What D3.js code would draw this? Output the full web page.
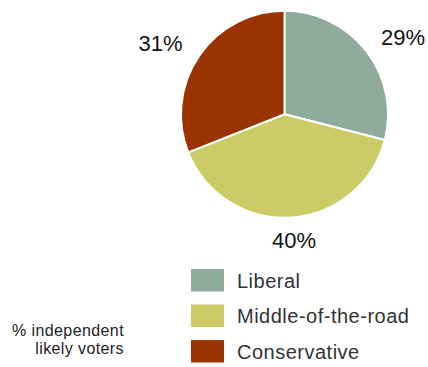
<!DOCTYPE html>
<html>
<head>
<meta charset="utf-8">
<script src="https://cdn.jsdelivr.net/npm/d3@7"></script>
<style>
  html, body { margin: 0; padding: 0; background: #fff; }
  svg { display: block; font-family: "Liberation Sans", Arial, sans-serif; }
</style>
</head>
<body>
<svg id="chart" width="428" height="367"></svg>
<script>
// Shares of independent likely voters by ideology
const categories = ["Liberal", "Middle-of-the-road", "Conservative"];
const values = [29, 40, 31];
const colors = ["#8fab9e", "#cccc66", "#993300"];
const noteLines = ["% independent", "likely voters"];

const svg = d3.select("#chart");
const cx = 284.5, cy = 114.3, radius = 103.5;

const pie = d3.pie().sort(null).value(d => d)(values);
const arc = d3.arc().innerRadius(0).outerRadius(radius);
const color = d3.scaleOrdinal().domain(categories).range(colors);

const g = svg.append("g").attr("transform", `translate(${cx},${cy})`);

g.selectAll("path.slice")
  .data(pie)
  .join("path")
  .attr("class", "slice")
  .attr("d", arc)
  .attr("fill", (d, i) => color(categories[i]))
  .attr("stroke", "#fff")
  .attr("stroke-width", 2)
  .attr("stroke-linejoin", "round");

// Percentage labels placed outside each slice along its mid angle
const labelRx = 150, labelRy = 126;
g.selectAll("text.pct")
  .data(pie)
  .join("text")
  .attr("class", "pct")
  .attr("x", d => Math.sin((d.startAngle + d.endAngle) / 2) * labelRx)
  .attr("y", d => -Math.cos((d.startAngle + d.endAngle) / 2) * labelRy + 8)
  .attr("text-anchor", "middle")
  .attr("font-size", 22)
  .attr("fill", "#111")
  .text(d => d.value + "%");

// Legend
const legendY = d3.scalePoint().domain(categories).range([269, 340]);
const legend = svg.append("g");
const items = legend.selectAll("g.item")
  .data(categories)
  .join("g")
  .attr("class", "item")
  .attr("transform", d => `translate(191,${legendY(d)})`);

items.append("rect")
  .attr("width", 33)
  .attr("height", 22.5)
  .attr("fill", d => color(d));

items.append("text")
  .attr("x", 46)
  .attr("y", 18.7)
  .attr("font-size", 20)
  .attr("letter-spacing", 0.5)
  .attr("fill", "#333")
  .text(d => d);

// Note describing the base
svg.append("text")
  .attr("text-anchor", "end")
  .attr("font-size", 16)
  .attr("letter-spacing", 0.4)
  .attr("fill", "#222")
  .selectAll("tspan")
  .data(noteLines)
  .join("tspan")
  .attr("x", 124)
  .attr("y", (d, i) => 335.7 + i * 18.3)
  .text(d => d);
</script>
</body>
</html>
